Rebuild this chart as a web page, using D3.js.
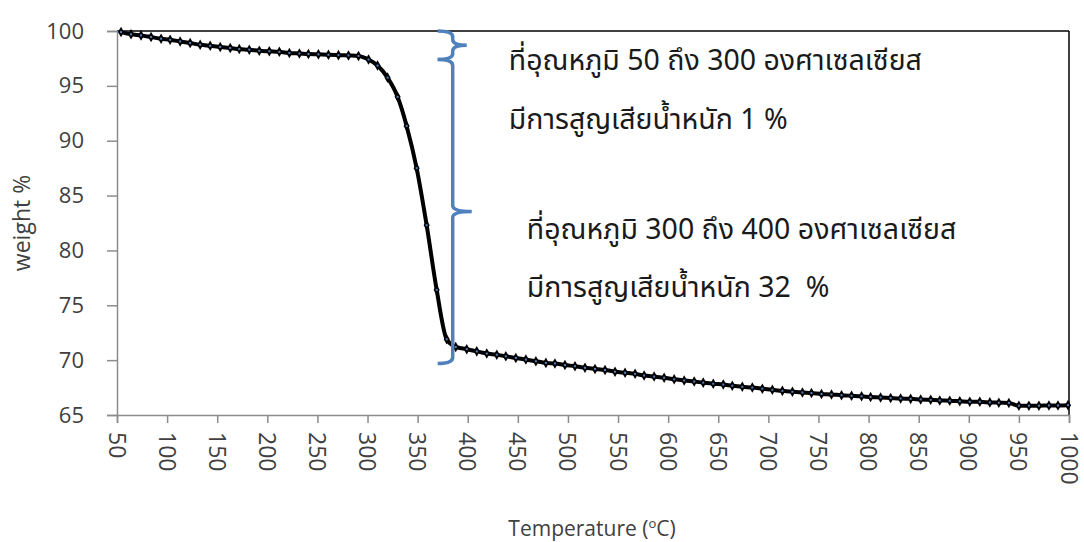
<!DOCTYPE html>
<html>
<head>
<meta charset="utf-8">
<script src="https://cdn.jsdelivr.net/npm/d3@7/dist/d3.min.js"></script>
<style>
  html, body { margin: 0; padding: 0; background: #ffffff; }
  svg { display: block; }
  .tick-label { font-family: "Open Sans", "Noto Sans", sans-serif; fill: #404040; }
  .thai { font-family: "Leelawadee UI", "Tahoma", "Noto Sans Thai", "Noto Sans", sans-serif; fill: #1a1a1a; white-space: pre; }
</style>
</head>
<body>
<svg id="chart" width="1084" height="542"></svg>
<script>
// TGA curve: temperature (°C) and remaining weight (%)
const temperatures = [
  54, 64, 74, 84, 94, 103, 113, 123, 133, 143,
  153, 163, 172, 182, 192, 202, 212, 222, 232, 241,
  251, 261, 271, 281, 291, 301, 310, 320, 330, 339,
  349, 359, 369, 379, 388, 399, 409, 419, 429, 438,
  448, 458, 468, 478, 487, 497, 507, 517, 527, 537,
  547, 557, 567, 576, 586, 596, 606, 616, 626, 635,
  645, 655, 664, 674, 684, 694, 704, 714, 724, 734,
  743, 753, 763, 773, 783, 793, 802, 812, 822, 832,
  842, 852, 862, 871, 881, 891, 901, 911, 921, 930,
  940, 950, 960, 970, 980, 989, 999
];
const weights = [
  99.9, 99.7, 99.6, 99.45, 99.3, 99.2, 99.05, 98.9, 98.75, 98.65,
  98.55, 98.45, 98.35, 98.3, 98.2, 98.15, 98.1, 98.0, 97.95, 97.9,
  97.87, 97.83, 97.8, 97.77, 97.73, 97.4, 96.85, 95.75, 94.0, 91.35,
  87.5, 82.3, 76.4, 71.9, 71.2, 71.0, 70.8, 70.6, 70.5, 70.35,
  70.2, 70.05, 69.9, 69.75, 69.7, 69.55, 69.45, 69.3, 69.2, 69.1,
  68.95, 68.85, 68.75, 68.6, 68.5, 68.4, 68.25, 68.15, 68.05, 67.95,
  67.85, 67.78, 67.67, 67.57, 67.5, 67.4, 67.3, 67.2, 67.12, 67.05,
  67.0, 66.92, 66.87, 66.8, 66.75, 66.7, 66.64, 66.6, 66.55, 66.5,
  66.47, 66.42, 66.38, 66.33, 66.3, 66.25, 66.2, 66.2, 66.15, 66.12,
  66.1, 65.85, 65.85, 65.85, 65.87, 65.87, 65.9
];

const xTickValues = [50, 100, 150, 200, 250, 300, 350, 400, 450, 500,
                     550, 600, 650, 700, 750, 800, 850, 900, 950, 1000];
const yTickValues = [65, 70, 75, 80, 85, 90, 95, 100];

// Weight-loss steps marked by braces: [upper weight, lower weight]
const stepRanges = [[100, 97.4], [97.4, 69.7]];
const stepLabels = [
  ["ที่อุณหภูมิ 50 ถึง 300 องศาเซลเซียส", "มีการสูญเสียน้ำหนัก 1 %"],
  ["ที่อุณหภูมิ 300 ถึง 400 องศาเซลเซียส", "มีการสูญเสียน้ำหนัก 32  %"]
];

const svg = d3.select("#chart");
const plot = { left: 117, right: 1069, top: 31, bottom: 415 };

const x = d3.scaleLinear().domain([50, 1000]).range([plot.left, plot.right]);
const y = d3.scaleLinear().domain([65, 100]).range([plot.bottom, plot.top]);

const axisGrey = "#8c8c8c";

// Plot frame: top and right edges
svg.append("line")
  .attr("x1", plot.left).attr("x2", plot.right)
  .attr("y1", plot.top).attr("y2", plot.top)
  .attr("stroke", "#000").attr("stroke-width", 1.5);
svg.append("line")
  .attr("x1", plot.right).attr("x2", plot.right)
  .attr("y1", plot.top).attr("y2", plot.bottom)
  .attr("stroke", "#000").attr("stroke-width", 1.5);

// Y axis
const yAxis = d3.axisLeft(y).tickValues(yTickValues).tickSize(10).tickPadding(23)
  .tickFormat(d3.format("d"));
const gy = svg.append("g").attr("transform", `translate(${plot.left},0)`).call(yAxis);
gy.select(".domain").attr("stroke", axisGrey).attr("stroke-width", 1.5);
gy.selectAll(".tick line").attr("stroke", axisGrey).attr("stroke-width", 1.5);
gy.selectAll(".tick text").attr("class", "tick-label").attr("font-size", 22);

// X axis with labels turned to read downward
const xAxis = d3.axisBottom(x).tickValues(xTickValues).tickSize(8).tickFormat(d3.format("d"));
const gx = svg.append("g").attr("transform", `translate(0,${plot.bottom})`).call(xAxis);
gx.select(".domain").attr("stroke", axisGrey).attr("stroke-width", 1.5);
gx.selectAll(".tick line").attr("stroke", axisGrey).attr("stroke-width", 1.5);
gx.selectAll(".tick text")
  .attr("class", "tick-label")
  .attr("font-size", 23)
  .attr("y", 0).attr("dy", 0)
  .attr("transform", "translate(0,17) rotate(90)")
  .attr("text-anchor", "start")
  .attr("dominant-baseline", "central");

// Axis titles
svg.append("text")
  .attr("class", "tick-label")
  .attr("font-size", 23)
  .attr("text-anchor", "middle")
  .attr("transform", `translate(30,${(plot.top + plot.bottom) / 2}) rotate(-90)`)
  .text("weight %");

const xt = svg.append("text")
  .attr("class", "tick-label")
  .attr("font-size", 21)
  .attr("text-anchor", "middle")
  .attr("x", 592).attr("y", 536);
xt.append("tspan").text("Temperature (");
xt.append("tspan").attr("font-size", 13).attr("dy", -8).text("o");
xt.append("tspan").attr("dy", 8).text("C)");

// Data series
const pts = temperatures.map((t, i) => [t, weights[i]]);
const line = d3.line().x(d => x(d[0])).y(d => y(d[1])).curve(d3.curveMonotoneX);

svg.append("path")
  .datum(pts)
  .attr("d", line)
  .attr("fill", "none")
  .attr("stroke", "#000")
  .attr("stroke-width", 4)
  .attr("stroke-linejoin", "round");

const marks = svg.append("g").selectAll("g").data(pts).join("g")
  .attr("transform", d => `translate(${x(d[0])},${y(d[1])})`);
marks.append("path")
  .attr("d", d3.symbol().type(d3.symbolDiamond).size(32))
  .attr("fill", "#000");
marks.append("rect")
  .attr("x", -1).attr("y", -1).attr("width", 2).attr("height", 2)
  .attr("fill", "#4f81bd");

// Braces marking each weight-loss step
const braceX = x(385), braceArm = x(370), braceTips = [x(399), x(404)];
function bracePath(y0, y1, xv, xl, xt) {
  const ym = (y0 + y1) / 2;
  const r = Math.min(6, (y1 - y0) / 5);
  return `M${xl},${y0} Q${xv},${y0} ${xv},${y0 + r}` +
         ` L${xv},${ym - r} Q${xv},${ym} ${xt},${ym}` +
         ` Q${xv},${ym} ${xv},${ym + r}` +
         ` L${xv},${y1 - r} Q${xv},${y1} ${xl},${y1}`;
}
stepRanges.forEach((r, i) => {
  svg.append("path")
    .attr("d", bracePath(y(r[0]), y(r[1]), braceX, braceArm, braceTips[i]))
    .attr("fill", "none")
    .attr("stroke", "#4f81bd")
    .attr("stroke-width", 3.5)
    .attr("stroke-linecap", "butt");
});

// Step descriptions
const labelX = [x(441), x(459)];
const labelY = [[70, 129], [239, 297]];
stepLabels.forEach((lines, i) => {
  lines.forEach((s, j) => {
    svg.append("text")
      .attr("class", "thai")
      .attr("font-size", 28.5)
      .attr("x", labelX[i])
      .attr("y", labelY[i][j])
      .text(s);
  });
});
</script>
</body>
</html>
